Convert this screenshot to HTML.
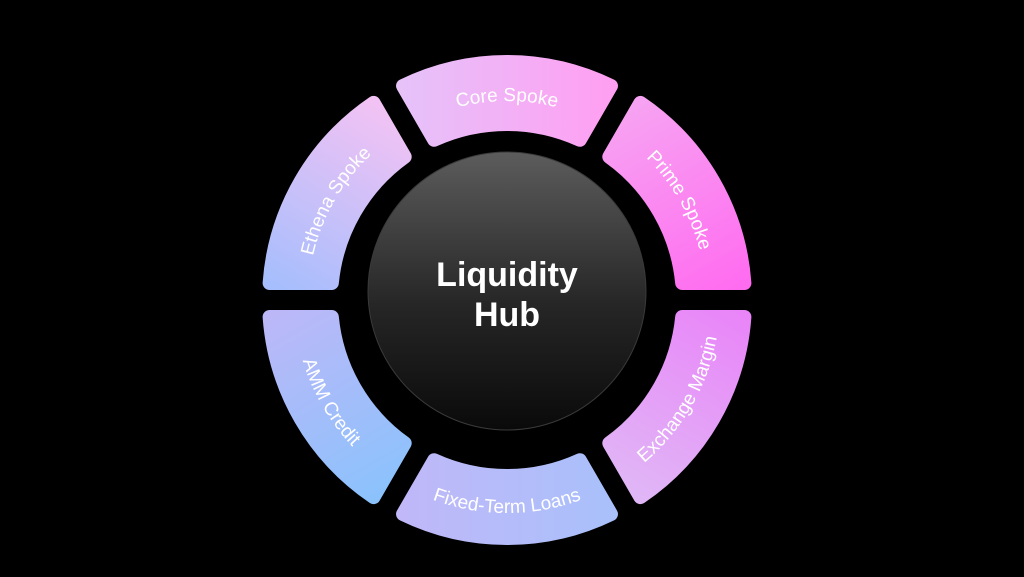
<!DOCTYPE html>
<html><head><meta charset="utf-8"><style>
html,body{margin:0;padding:0;background:#000;}
svg{display:block;}
text{font-family:"Liberation Sans","DejaVu Sans",sans-serif;fill:#fff;}
</style></head><body>
<svg width="1024" height="577" viewBox="0 0 1024 577" xmlns="http://www.w3.org/2000/svg">
<defs>
<linearGradient id="g0" x1="0" y1="0" x2="1" y2="0"><stop offset="0" stop-color="#e6c2f9"/><stop offset="1" stop-color="#ff9ff2"/></linearGradient>
<linearGradient id="g1" x1="0" y1="0" x2="1" y2="0"><stop offset="0" stop-color="#f7a2f2"/><stop offset="1" stop-color="#ff6cf0"/></linearGradient>
<linearGradient id="g2" x1="0" y1="0" x2="1" y2="0"><stop offset="0" stop-color="#e985f8"/><stop offset="1" stop-color="#e0b6f6"/></linearGradient>
<linearGradient id="g3" x1="0" y1="0" x2="1" y2="0"><stop offset="0" stop-color="#a9c0fa"/><stop offset="1" stop-color="#c0b8f8"/></linearGradient>
<linearGradient id="g4" x1="0" y1="0" x2="1" y2="0"><stop offset="0" stop-color="#8cc2fc"/><stop offset="1" stop-color="#bcb8f8"/></linearGradient>
<linearGradient id="g5" x1="0" y1="0" x2="1" y2="0"><stop offset="0" stop-color="#a6befd"/><stop offset="1" stop-color="#f2c2f4"/></linearGradient>
<linearGradient id="hub" x1="0" y1="0" x2="0" y2="1"><stop offset="0" stop-color="#5c5c5c"/><stop offset="0.55" stop-color="#262626"/><stop offset="1" stop-color="#0a0a0a"/></linearGradient>
<path id="seg" d="M -103.97 -214.08 A 238 238 0 0 1 103.97 -214.08 L 72.87 -160.21 A 176 176 0 0 0 -72.87 -160.21 Z"/>
<path id="tn" d="M -99.5 -172.3 A 199 199 0 0 1 99.5 -172.3"/>
<path id="tr" d="M 106.5 -184.5 A 213 213 0 0 0 -106.5 -184.5"/>
</defs>
<g transform="translate(507,300)">
  <g transform="rotate(0)"><use href="#seg" fill="url(#g0)" stroke="url(#g0)" stroke-width="14" stroke-linejoin="round"/>
    <text font-size="19"><textPath href="#tn" startOffset="50%" text-anchor="middle">Core Spoke</textPath></text></g>
  <g transform="rotate(60)"><use href="#seg" fill="url(#g1)" stroke="url(#g1)" stroke-width="14" stroke-linejoin="round"/>
    <text font-size="19"><textPath href="#tn" startOffset="50%" text-anchor="middle">Prime Spoke</textPath></text></g>
  <g transform="rotate(120)"><use href="#seg" fill="url(#g2)" stroke="url(#g2)" stroke-width="14" stroke-linejoin="round"/>
    <text font-size="19"><textPath href="#tr" startOffset="50%" text-anchor="middle">Exchange Margin</textPath></text></g>
  <g transform="rotate(180)"><use href="#seg" fill="url(#g3)" stroke="url(#g3)" stroke-width="14" stroke-linejoin="round"/>
    <text font-size="19"><textPath href="#tr" startOffset="50%" text-anchor="middle">Fixed-Term Loans</textPath></text></g>
  <g transform="rotate(240)"><use href="#seg" fill="url(#g4)" stroke="url(#g4)" stroke-width="14" stroke-linejoin="round"/>
    <text font-size="19"><textPath href="#tr" startOffset="50%" text-anchor="middle">AMM Credit</textPath></text></g>
  <g transform="rotate(300)"><use href="#seg" fill="url(#g5)" stroke="url(#g5)" stroke-width="14" stroke-linejoin="round"/>
    <text font-size="19"><textPath href="#tn" startOffset="50%" text-anchor="middle">Ethena Spoke</textPath></text></g>
</g>
<circle cx="507" cy="291" r="139" fill="url(#hub)" stroke="#3a3a3a" stroke-width="1"/>
<text x="507" y="286" font-size="34" font-weight="bold" text-anchor="middle">Liquidity</text>
<text x="507" y="326" font-size="34" font-weight="bold" text-anchor="middle">Hub</text>
</svg>
</body></html>
